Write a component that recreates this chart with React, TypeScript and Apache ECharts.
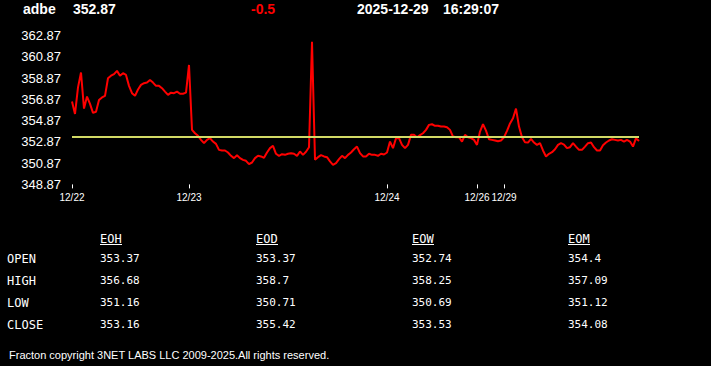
import React, { useEffect, useRef } from "react";
import * as echarts from "echarts";

const symbol = "adbe";
const lastPrice = "352.87";
const change = "-0.5";
const quoteDate = "2025-12-29";
const quoteTime = "16:29:07";
const prevClose = 353.37;

const dayLabels = ["12/22", "12/23", "12/24", "12/26", "12/29"];
const samplesPerDay = [39, 66, 30, 9, 46];

const prices = [
  356.66, 355.5, 358.0, 359.4, 356.0, 357.13, 356.45, 355.6, 355.7, 356.8,
  357.05, 357.2, 358.86, 359.1, 359.25, 359.55, 359.1, 359.33, 359.17, 358.14,
  357.45, 357.2, 357.8, 358.23, 358.39, 358.45, 358.7, 358.45, 358.14, 358.14,
  357.92, 357.6, 357.29, 357.5, 357.45, 357.6, 357.4, 357.4, 357.5, 360.11,
  354.0, 353.68, 353.44, 353.06, 352.75, 353.06, 353.22, 352.9,
  352.68, 352.12, 352.06, 352.06, 351.87, 351.56, 351.34, 351.62, 351.34, 351.18,
  351.09, 350.78, 350.93, 351.34, 351.56, 351.5, 351.37, 351.87, 352.28, 352.5,
  351.75, 351.56, 351.71, 351.65, 351.75, 351.81, 351.75, 351.56, 351.97, 351.65,
  351.94, 352.37, 362.3, 351.2, 351.43, 351.62, 351.5, 351.43, 351.03, 350.71,
  350.87, 351.25, 351.56, 351.34, 351.65, 351.87, 352.18, 352.43, 351.81,
  351.5, 351.5, 351.75, 351.65, 351.65, 351.56, 351.75, 351.68, 351.87, 352.9,
  352.28, 353.22, 353.22, 352.59, 352.28, 352.59, 353.53, 353.53, 353.31, 353.5,
  353.68, 354.0, 354.47, 354.53, 354.38, 354.38, 354.31, 354.31, 354.25, 354.0,
  353.37, 353.31, 353.31, 352.9, 353.53, 353.31, 353.22, 353.06, 352.59, 353.84,
  354.53, 353.93, 353.12, 353.06, 353.0, 352.93, 353.0, 353.31,
  353.9, 354.6, 355.09, 356.0, 354.31, 353.31, 352.84, 352.81, 353.15, 352.81,
  352.59, 352.75, 352.06, 351.5, 351.75, 351.9, 352.18, 352.59, 352.75, 352.62,
  352.28, 352.37, 352.75, 352.43, 352.12, 352.12, 352.43, 352.75, 352.81, 352.37,
  352.06, 352.06, 352.56, 352.81, 353.0, 353.12, 353.06, 353.0, 353.06, 352.9,
  353.06, 352.9, 352.43, 353.22, 352.95,
];

const yTicks = [348.87, 350.87, 352.87, 354.87, 356.87, 358.87, 360.87, 362.87];

const tableCols = ["EOH", "EOD", "EOW", "EOM"];
const tableRows = ["OPEN", "HIGH", "LOW", "CLOSE"];
const eoh = ["353.37", "356.68", "351.16", "353.16"];
const eod = ["353.37", "358.7", "350.71", "355.42"];
const eow = ["352.74", "358.25", "350.69", "353.53"];
const eom = ["354.4", "357.09", "351.12", "354.08"];
const footer = "Fracton copyright 3NET LABS LLC 2009-2025.All rights reserved.";

const SANS = '"Liberation Sans", Arial, sans-serif';
const MONO = '"DejaVu Sans Mono", monospace';

export default function App() {
  const ref = useRef<HTMLDivElement>(null);

  useEffect(() => {
    if (!ref.current) return;
    const chart = echarts.init(ref.current, null, { renderer: "svg" });

    const categories: string[] = [];
    samplesPerDay.forEach((n, d) => {
      for (let k = 0; k < n; k++) categories.push(dayLabels[d]);
    });
    const isDayStart = (index: number) =>
      index === 0 || categories[index] !== categories[index - 1];

    const colData = [eoh, eod, eow, eom];
    const colX = [100, 256, 412, 568];
    const rowY = [258.5, 280, 302, 324];

    const graphics: any[] = [];
    const header = [
      { t: symbol, x: 23, c: "#ffffff" },
      { t: lastPrice, x: 73, c: "#ffffff" },
      { t: change, x: 251, c: "#ff0000" },
      { t: quoteDate, x: 357, c: "#ffffff" },
      { t: quoteTime, x: 443, c: "#ffffff" },
    ];
    header.forEach((h) =>
      graphics.push({
        type: "text",
        x: h.x,
        y: 9,
        style: {
          text: h.t,
          fill: h.c,
          font: `bold 14px ${SANS}`,
          verticalAlign: "middle",
          align: "left",
        },
      })
    );
    tableCols.forEach((c, ci) => {
      graphics.push({
        type: "text",
        x: colX[ci],
        y: 238.5,
        style: {
          text: c,
          fill: "#ffffff",
          font: `12px ${MONO}`,
          verticalAlign: "middle",
          align: "left",
        },
      });
      graphics.push({
        type: "line",
        shape: { x1: colX[ci], y1: 244.5, x2: colX[ci] + 22, y2: 244.5 },
        style: { stroke: "#ffffff", lineWidth: 1 },
      });
      colData[ci].forEach((v, ri) =>
        graphics.push({
          type: "text",
          x: colX[ci],
          y: rowY[ri],
          style: {
            text: v,
            fill: "#ffffff",
            font: `11px ${MONO}`,
            verticalAlign: "middle",
            align: "left",
          },
        })
      );
    });
    tableRows.forEach((r, ri) =>
      graphics.push({
        type: "text",
        x: 7,
        y: rowY[ri] + 0.8,
        style: {
          text: r,
          fill: "#ffffff",
          font: `12px ${MONO}`,
          verticalAlign: "middle",
          align: "left",
        },
      })
    );
    graphics.push({
      type: "text",
      x: 9,
      y: 354.5,
      style: {
        text: footer,
        fill: "#ffffff",
        font: `11px ${SANS}`,
        verticalAlign: "middle",
        align: "left",
      },
    });

    chart.setOption({
      animation: false,
      backgroundColor: "#000000",
      grid: { left: 72, right: 72, top: 35.6, bottom: 181.6 },
      xAxis: {
        type: "category",
        data: categories,
        boundaryGap: false,
        axisLine: { show: false },
        axisTick: {
          show: true,
          interval: (i: number) => isDayStart(i),
          length: 4,
          lineStyle: { color: "#ffffff", width: 1 },
        },
        axisLabel: {
          interval: (i: number) => isDayStart(i),
          color: "#ffffff",
          fontSize: 10,
          fontFamily: SANS,
          margin: 8,
        },
        splitLine: { show: false },
      },
      yAxis: {
        type: "value",
        min: 348.87,
        max: 362.87,
        axisLine: { show: false },
        axisTick: { show: false },
        splitLine: { show: false },
        axisLabel: {
          customValues: yTicks,
          formatter: (v: number) => v.toFixed(2),
          color: "#ffffff",
          fontSize: 13,
          fontFamily: SANS,
          margin: 11,
        },
      },
      series: [
        {
          type: "line",
          data: prices,
          showSymbol: false,
          symbol: "none",
          lineStyle: { color: "#ff0000", width: 2 },
          markLine: {
            silent: true,
            symbol: ["none", "none"],
            label: { show: false },
            lineStyle: { color: "#d2da66", width: 2, type: "solid" },
            data: [{ yAxis: prevClose }],
          },
        },
      ],
      graphic: graphics,
    });

    return () => chart.dispose();
  }, []);

  return (
    <div
      ref={ref}
      style={{
        position: "absolute",
        left: 0,
        top: 0,
        width: 711,
        height: 366,
        background: "#000000",
      }}
    />
  );
}
